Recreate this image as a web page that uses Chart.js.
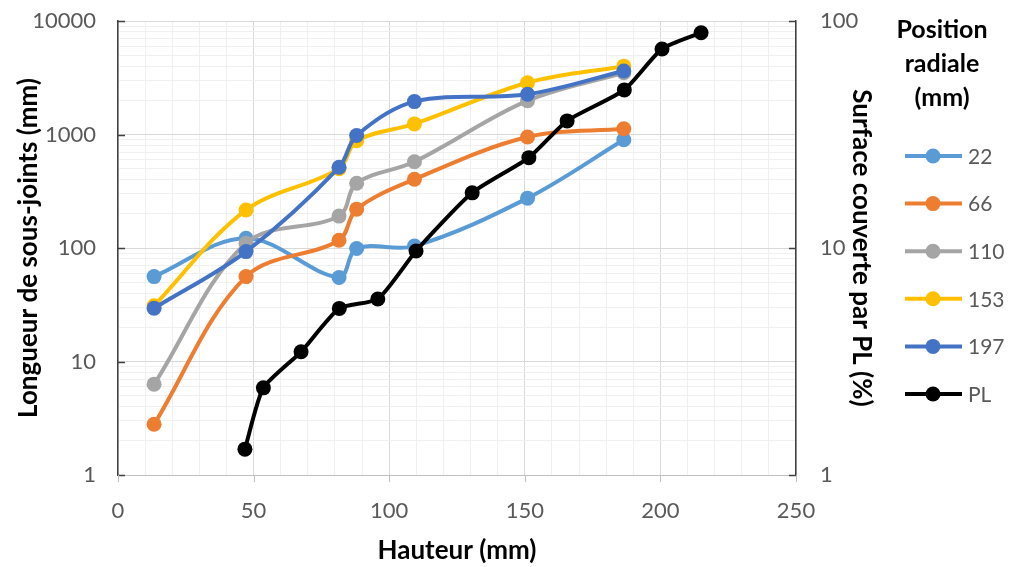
<!DOCTYPE html>
<html>
<head>
<meta charset="utf-8">
<script src="https://cdn.jsdelivr.net/npm/chart.js@4.4.0/dist/chart.umd.min.js"></script>
<style>
html,body{margin:0;padding:0;background:#fff;}
canvas{display:block;}
</style>
</head>
<body>
<canvas id="c" width="1010" height="567"></canvas>
<script>
// ---- Data ----
const hauteur = [13.3, 47.2, 81.5, 88, 109.3, 151, 186.5];
const s22  = [56, 122, 55, 99, 104, 275, 900];
const s66  = [2.8, 56, 117, 220, 403, 950, 1125];
const s110 = [6.3, 110, 191, 372, 575, 1985, 3500];
const s153 = [31, 216, 500, 880, 1240, 2860, 4000];
const s197 = [29.5, 93, 514, 980, 1950, 2260, 3630];
const plHauteur = [46.8, 53.6, 67.5, 81.6, 95.8, 109.9, 130.6, 151.5, 165.6, 186.7, 200.6, 215];
const plSurface = [1.30, 2.42, 3.49, 5.42, 5.96, 9.7, 17.5, 25.0, 36.3, 49.7, 75.3, 88.8];
const seriesNames = ['22', '66', '110', '153', '197', 'PL'];
const seriesColors = ['#5B9BD5', '#ED7D31', '#A5A5A5', '#FFC000', '#4472C4', '#000000'];
const xTicks = [0, 50, 100, 150, 200, 250];
const yLeftTicks = [1, 10, 100, 1000, 10000];
const yRightTicks = [1, 10, 100];
const legendTitle = ['Position', 'radiale', '(mm)'];

const FONT = 'Lato';
const pts = (xs, ys) => xs.map((x, i) => ({x: x, y: ys[i]}));
const leftSeries = [s22, s66, s110, s153, s197];

const datasets = leftSeries.map((s, i) => ({
  label: seriesNames[i],
  data: pts(hauteur, s),
  yAxisID: 'y',
  borderColor: seriesColors[i],
  backgroundColor: seriesColors[i],
  borderWidth: 4,
  pointRadius: 7.5,
  pointBorderWidth: 0,
  tension: 0.35,
  order: 10 - i
}));
datasets.push({
  label: seriesNames[5],
  data: pts(plHauteur, plSurface),
  yAxisID: 'y2',
  borderColor: seriesColors[5],
  backgroundColor: seriesColors[5],
  borderWidth: 4,
  pointRadius: 7.5,
  pointBorderWidth: 0,
  tension: 0.2,
  order: 1
});

function logTicksFull(min, max) {
  const out = [];
  for (let d = min; d < max; d *= 10) {
    for (let k = 1; k < 10; k++) out.push(Math.round(d * k * 1000) / 1000);
  }
  out.push(max);
  return out;
}
const isMajorLog = v => Math.abs(Math.log10(v) - Math.round(Math.log10(v))) < 1e-9;

const tickMarks = {
  id: 'tickMarks',
  afterDraw(chart) {
    const ctx = chart.ctx;
    const {x, y, y2} = chart.scales;
    const a = chart.chartArea;
    ctx.save();
    ctx.lineWidth = 1.5;
    ctx.strokeStyle = '#404040';
    ctx.beginPath();
    yLeftTicks.forEach(v => { const p = Math.round(y.getPixelForValue(v)) + 0.5; ctx.moveTo(a.left, p); ctx.lineTo(a.left + 7, p); });
    yRightTicks.forEach(v => { const p = Math.round(y2.getPixelForValue(v)) + 0.5; ctx.moveTo(a.right, p); ctx.lineTo(a.right - 7, p); });
    ctx.stroke();
    ctx.strokeStyle = '#BFBFBF';
    ctx.lineWidth = 1;
    ctx.beginPath();
    xTicks.forEach(v => { const p = Math.round(x.getPixelForValue(v)) + 0.5; ctx.moveTo(p, a.bottom); ctx.lineTo(p, a.bottom + 7); });
    ctx.stroke();
    ctx.restore();
  }
};

const customLegend = {
  id: 'customLegend',
  afterDraw(chart) {
    const ctx = chart.ctx;
    ctx.save();
    ctx.textAlign = 'center';
    ctx.textBaseline = 'middle';
    ctx.fillStyle = '#000';
    ctx.font = 'bold 25px ' + FONT;
    legendTitle.forEach((t, i) => ctx.fillText(t, 942, 30 + i * 34));
    ctx.font = '21px ' + FONT;
    ctx.textAlign = 'left';
    chart.data.datasets.forEach((ds, i) => {
      const yy = 156 + i * 47.6;
      ctx.strokeStyle = ds.borderColor;
      ctx.lineWidth = 4;
      ctx.beginPath(); ctx.moveTo(905, yy); ctx.lineTo(962, yy); ctx.stroke();
      ctx.fillStyle = ds.borderColor;
      ctx.beginPath(); ctx.arc(933, yy, 7.5, 0, Math.PI * 2); ctx.fill();
      ctx.fillStyle = '#595959';
      ctx.fillText(ds.label, 968, yy + 1);
    });
    ctx.restore();
  }
};

function fitVertical(width) {
  return s => { s.width = width; s.paddingTop = 0; s.paddingBottom = 0; };
}

new Chart(document.getElementById('c'), {
  type: 'line',
  data: {datasets},
  plugins: [tickMarks, customLegend],
  options: {
    responsive: false,
    animation: false,
    devicePixelRatio: 1,
    layout: {padding: {left: 0, right: 124, top: 21, bottom: 0}},
    plugins: {legend: {display: false}, tooltip: {enabled: false}},
    scales: {
      x: {
        type: 'linear', min: 0, max: 250,
        afterFit(s) { s.height = 92; },
        afterBuildTicks(s) { const t = []; for (let v = 0; v <= 250; v += 10) t.push({value: v}); s.ticks = t; },
        ticks: {
          autoSkip: false, padding: 23, color: '#595959', font: {family: FONT, size: 22},
          maxRotation: 0,
          callback: v => (xTicks.includes(v) ? String(v) : '')
        },
        grid: {
          drawTicks: false,
          color: c => (c.tick && c.tick.value % 50 === 0) ? '#D9D9D9' : '#F0F0F0',
          lineWidth: 1
        },
        border: {display: true, color: '#BFBFBF', width: 1},
        title: {display: true, text: 'Hauteur (mm)', color: '#000', font: {family: FONT, size: 26, weight: 'bold'}, padding: {top: 0, bottom: 1}}
      },
      y: {
        type: 'logarithmic', position: 'left', min: 1, max: 10000,
        afterFit: fitVertical(118),
        afterBuildTicks(s) { s.ticks = logTicksFull(1, 10000).map(v => ({value: v})); },
        ticks: {
          autoSkip: false, padding: 22, color: '#595959', font: {family: FONT, size: 22},
          callback: v => (yLeftTicks.includes(v) ? String(v) : '')
        },
        grid: {
          drawTicks: false,
          color: c => (c.tick && isMajorLog(c.tick.value)) ? '#D9D9D9' : '#F0F0F0',
          lineWidth: 1
        },
        border: {display: true, color: '#404040', width: 1.5},
        title: {display: true, text: 'Longueur de sous-joints (mm)', color: '#000', font: {family: FONT, size: 26, weight: 'bold'}, padding: {top: 13, bottom: 0}}
      },
      y2: {
        type: 'logarithmic', position: 'right', min: 1, max: 100,
        afterFit: fitVertical(90),
        afterBuildTicks(s) { s.ticks = yRightTicks.map(v => ({value: v})); },
        ticks: {
          autoSkip: false, padding: 24, color: '#595959', font: {family: FONT, size: 22},
          callback: v => String(v)
        },
        grid: {display: false, drawTicks: false},
        border: {display: true, color: '#404040', width: 1.5},
        title: {display: true, text: 'Surface couverte par PL (%)', color: '#000', font: {family: FONT, size: 26, weight: 'bold'}, padding: {top: 9, bottom: 0}}
      }
    }
  }
});
</script>
</body>
</html>
